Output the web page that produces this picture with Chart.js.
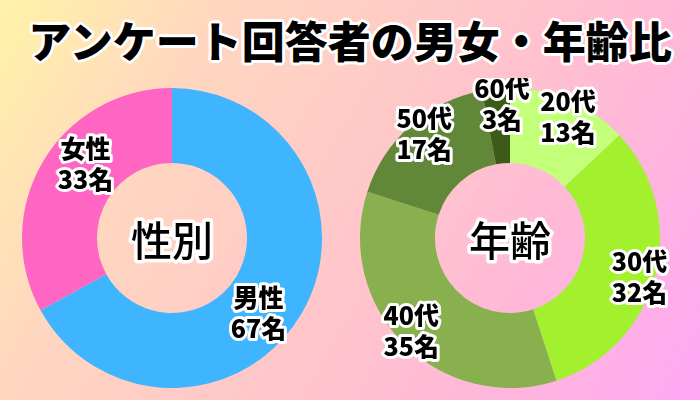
<!DOCTYPE html>
<html lang="ja">
<head>
<meta charset="utf-8">
<script src="https://cdn.jsdelivr.net/npm/chart.js@4"></script>
<style>
  html, body { margin:0; padding:0; }
  body {
    width:700px; height:400px; overflow:hidden; position:relative;
    background: linear-gradient(120deg, #fff3a8 0%, #ffd6c0 25%, #ffc8c8 50%, #ffb8d8 75%, #ffa8f5 100%);
    font-family: "Noto Sans CJK JP", "Noto Sans", sans-serif;
  }
  #title {
    position:absolute; left:0; top:12px; width:700px; text-align:center;
    font-size:43px; font-weight:900; line-height:54px; color:#000;
    text-shadow: 2px 0 #fff, -2px 0 #fff, 0 2px #fff, 0 -2px #fff,
                 2px 2px #fff, -2px -2px #fff, 2px -2px #fff, -2px 2px #fff,
                 3px 0 #fff, -3px 0 #fff, 0 3px #fff, 0 -3px #fff;
  }
  .box { position:absolute; top:78px; width:344px; height:320px; }
  #box1 { left:0px; }
  #box2 { left:340px; width:340px; }
</style>
</head>
<body>
<div id="title">アンケート回答者の男女・年齢比</div>
<div class="box" id="box1"><canvas id="genderChart"></canvas></div>
<div class="box" id="box2"><canvas id="ageChart"></canvas></div>
<script>
// 性別
const genderLabels = ['男性', '女性'];
const genderValues = [67, 33];
const genderColors = ['#3fb4ff', '#ff66c4'];

// 年齢
const ageLabels = ['20代', '30代', '40代', '50代', '60代'];
const ageValues = [13, 32, 35, 17, 3];
const ageColors = ['#c3ff78', '#a2f02e', '#88b04e', '#608838', '#3c5a18'];

const unit = '名';

// 白フチ文字
function outlined(ctx, text, x, y, width) {
    ctx.lineJoin = 'round';
    ctx.lineWidth = width;
    ctx.strokeStyle = '#fff';
    ctx.strokeText(text, x, y);
    ctx.fillStyle = '#000';
    ctx.fillText(text, x, y);
}

const ringLabels = {
    id: 'ringLabels',
    afterDatasetsDraw(chart, args, opts) {
        const ctx = chart.ctx;
        const meta = chart.getDatasetMeta(0);
        const values = chart.data.datasets[0].data;
        ctx.save();
        ctx.textAlign = 'center';
        ctx.textBaseline = 'middle';
        meta.data.forEach((arc, i) => {
            const p = arc.getProps(['x', 'y', 'startAngle', 'endAngle', 'outerRadius'], true);
            const a = (p.startAngle + p.endAngle) / 2 + opts.shift * Math.PI / 180;
            const r = p.outerRadius * opts.radius;
            const x = p.x + Math.cos(a) * r;
            const y = p.y + Math.sin(a) * r;
            ctx.font = '900 25px "Noto Sans CJK JP"';
            outlined(ctx, chart.data.labels[i], x, y - 15, 6);
            outlined(ctx, values[i] + unit, x, y + 16, 6);
        });
        const c = meta.data[0];
        ctx.font = '500 41px "Noto Sans CJK JP"';
        outlined(ctx, opts.center, c.x, c.y + 2, 7);
        ctx.restore();
    }
};

function makeRing(canvasId, labels, values, colors, center, radius, shift, pad) {
    new Chart(document.getElementById(canvasId), {
        type: 'doughnut',
        data: {
            labels: labels,
            datasets: [{ data: values, backgroundColor: colors, borderWidth: 0 }]
        },
        options: {
            responsive: true,
            maintainAspectRatio: false,
            animation: false,
            cutout: '50%',
            layout: { padding: pad },
            plugins: {
                legend: { display: false },
                tooltip: { enabled: false },
                ringLabels: { center: center, radius: radius, shift: shift }
            }
        },
        plugins: [ringLabels]
    });
}

makeRing('genderChart', genderLabels, genderValues, genderColors, '性別', 0.76, 10,
    { left: 22, right: 22, top: 10, bottom: 10 });
makeRing('ageChart', ageLabels, ageValues, ageColors, '年齢', 0.9, 2,
    { left: 20, right: 20, top: 10, bottom: 10 });
</script>
</body>
</html>
